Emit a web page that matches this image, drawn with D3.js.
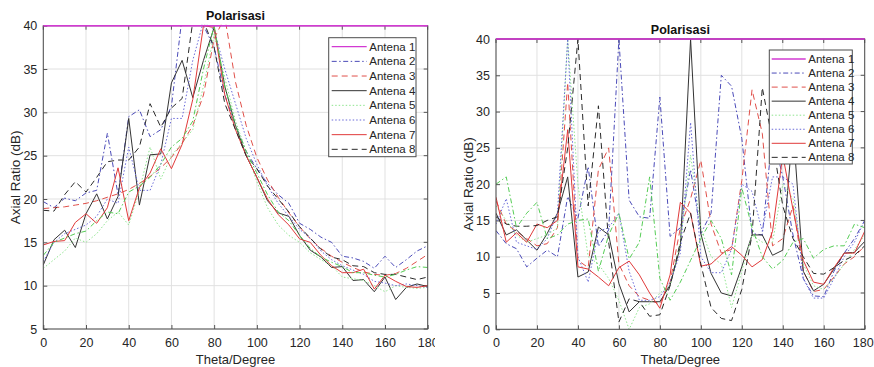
<!DOCTYPE html>
<html><head><meta charset="utf-8">
<script src="https://cdn.jsdelivr.net/npm/d3@7/dist/d3.min.js"></script>
<style>body{margin:0;background:#fff}svg{display:block;font-family:"Liberation Sans",Arial,Helvetica,sans-serif}</style>
</head><body><svg id="chart" width="874" height="367"></svg>
<script>
// ---------- data ----------
const theta = [0,5,10,15,20,25,30,35,40,45,50,55,60,65,70,75,80,85,90,95,100,105,110,115,120,125,130,135,140,145,150,155,160,165,170,175,180];
const seriesNames = ["Antena 1","Antena 2","Antena 3","Antena 4","Antena 5","Antena 6","Antena 7","Antena 8"];
const xTicks = [0,20,40,60,80,100,120,140,160,180];
const yTicksLeft = [5,10,15,20,25,30,35,40];
const yTicksRight = [0,5,10,15,20,25,30,35,40];
const titleText = "Polarisasi";
const xLabel = "Theta/Degree";
const yLabel = "Axial Ratio (dB)";

// left panel
const leftAntena1 = [40,40,40,40,40,40,40,40,40,40,40,40,40,40,40,40,40,40,40,40,40,40,40,40,40,40,40,40,40,40,40,40,40,40,40,40,40];
const leftAntena2 = [19.7,19.0,20.1,19.8,20.7,21.0,27.6,20.5,29.5,30.3,27.2,28.0,30.7,41,41,40,37.5,32,28.5,25.5,23.5,21.8,20.5,19.5,17.2,16.5,15.6,15.0,13.4,13.2,12.8,12.0,13.4,12.1,13.0,14.0,14.6];
const leftAntena3 = [18.9,19.0,19.1,19.3,19.5,19.8,20.2,20.6,21.1,21.8,22.6,23.6,24.8,26.4,28.5,32,38.5,41,33.5,28.5,24.8,22.2,20.2,18.4,16.8,15.4,14.3,13.4,12.7,12.1,11.6,11.3,11.2,11.4,12.0,12.8,13.6];
const leftAntena4 = [12.4,15.3,16.4,14.4,18.3,20.6,17.7,20.3,29.3,19.3,25.1,25.2,33.4,36.0,31.7,36.0,39.8,33.0,28.5,25.0,22.5,19.8,18.4,18.0,15.8,14.1,13.3,12.1,12.2,10.6,10.7,9.3,11.0,8.4,9.8,10.2,9.9];
const leftAntena5 = [12.0,13.0,14.0,15.5,15.0,16.0,17.5,18.5,17.0,21.0,26.0,22.3,25.0,26.5,28.0,33.0,39.0,34.0,29.0,25.5,22.0,19.0,17.0,15.8,15.0,13.8,13.0,12.3,11.0,10.8,10.6,10.0,9.3,10.0,9.8,9.7,9.8];
const leftAntena6 = [12.8,15.0,16.0,16.5,17.0,18.0,20.0,19.5,26.0,21.0,21.0,24.0,29.3,29.3,36.0,40.5,39.5,35.0,31.0,27.0,24.0,21.5,19.5,18.0,16.5,15.5,14.0,13.0,12.3,11.8,11.3,10.5,10.3,10.0,10.2,10.0,9.8];
const leftAntena7 = [14.7,15.1,15.2,17.3,18.3,17.2,19.0,23.6,17.5,21.3,23.0,25.8,23.5,26.3,31.5,40.0,39.8,32.0,28.0,25.0,22.5,20.0,18.2,17.0,15.4,15.0,13.5,12.3,11.5,11.5,11.9,9.6,11.2,10.5,9.9,9.8,10.0];
const leftAntena8 = [18.7,18.6,20.5,22.0,20.8,22.5,24.3,24.5,24.5,26.0,31.0,28.3,30.5,31.6,40.5,40.5,37.5,31.0,28.0,25.0,23.5,21.5,20.0,18.5,16.8,15.5,14.2,13.3,13.0,12.3,12.2,11.5,11.3,11.3,11.0,10.7,11.0];
const leftExtra = [13.5,15.0,15.5,16.0,16.3,17.5,18.5,18.3,20.8,21.5,22.5,24.0,26.0,27.0,29.0,35.0,40.0,33.0,28.5,25.5,23.0,20.5,18.5,17.5,15.8,14.3,13.3,12.7,12.2,11.5,11.5,11.2,11.0,11.3,11.8,12.2,12.1];

// right panel
const rightAntena1 = [40,40,40,40,40,40,40,40,40,40,40,40,40,40,40,40,40,40,40,40,40,40,40,40,40,40,40,40,40,40,40,40,40,40,40,40,40];
const rightAntena2 = [13.6,11.8,11.1,8.6,9.8,10.9,10.0,18.3,15.3,22.4,11.4,13.7,40,17.8,15.5,15.3,32,12.8,14,22,13.2,16,35,33.5,26.3,13.2,13,27,21,13,7,4.6,4.5,8,10.5,12.5,15];
const rightAntena3 = [17.7,14.5,13.5,12.5,11.5,11.8,14,34,9.5,8.5,22,25,9,6,4.5,4,3.5,6.5,14,18,23.3,14.5,10.5,11,20.5,33,27,11.5,12.5,17,8,5.2,5.5,7.2,9,10,11.5];
const rightAntena4 = [16,13,13.7,12.3,10.9,13.2,16,21,7.2,7.9,14.1,13,6.3,2.4,3.8,3.8,3.8,6.1,11.4,40,13.2,7.7,5,4.6,8.6,13,13,10.2,10.9,28,8,5.3,6.2,8.3,10.5,10.6,12.1];
const rightAntena5 = [17,15,13,12,12.5,13,14,40,20,10,9,7,4,0,3,3.5,5,6,12,24,14,10,9,3,8,13,12,12,20,18,9,6,5.5,7,9,11,13];
const rightAntena6 = [14.5,18,12,11.5,11,12.5,16,40,10,6.5,13.5,14,16,8,4,4,4.5,6.5,10.5,28.5,10,7.8,7.8,11,20,19,13.5,21,21,20,7,4.3,4.3,7,10,12,15];
const rightAntena7 = [18.2,12,13.3,12,14.5,14,15,27.5,8.6,8.3,7.2,6,8.5,9.4,7.5,5,2.9,7.5,17.5,16,8.7,9,10.3,11.4,10.2,8.6,9.6,13.5,24,16.5,9.5,6.5,6.2,8.5,10.5,10.5,13.5];
const rightAntena8 = [15.5,14.5,14.2,14.2,14.3,15,15.5,25,40,17,30.8,12,1,4.2,3.8,1.8,2,6,12,16,9,3,1.5,1.2,5.5,13,33.3,26,17,12.5,10,7.7,7.6,8.5,9.5,10.2,11.5];
const rightExtra = [20,21,14,16,17.5,12.5,13,14.5,15,15.2,8,13,16,9.7,12,21,7,4,6.5,9.5,12.5,15,12.5,7.5,19.5,14,10,8.3,9.5,12,12.5,9.8,11,11.5,11.5,14.5,14];

// ---------- styles ----------
const lineStyles = [
  {color:"#d23ad2", dash:null,            width:1.3},
  {color:"#4b4bb8", dash:"5,2.5,1.5,2.5", width:1},
  {color:"#e0504a", dash:"6,4",           width:1},
  {color:"#333333", dash:null,            width:1},
  {color:"#8ee48e", dash:"1.5,2",         width:1},
  {color:"#6a6ad8", dash:"1.5,2",         width:1},
  {color:"#e03a3a", dash:null,            width:1},
  {color:"#2a2a2a", dash:"6,4",           width:1},
  {color:"#55cc55", dash:"5,2.5,1.5,2.5", width:1}
];

const panels = [
  {x0:43.3, x1:427.7, yTop:25.7, yBot:329.0, yDomain:[5,40], yTicks:yTicksLeft,
   series:[leftAntena1,leftAntena2,leftAntena3,leftAntena4,leftAntena5,leftAntena6,leftAntena7,leftAntena8,leftExtra],
   legend:{x:328.7,y:37.7,w:87.3,h:119,first:46.7,step:14.66,l0:331.7,l1:366.7,tx:369.3},
   titleY:20, ylabX:16, clipRight:435, lastDx:0},
  {x0:496, x1:864.7, yTop:39, yBot:329.3, yDomain:[0,40], yTicks:yTicksRight,
   series:[rightAntena1,rightAntena2,rightAntena3,rightAntena4,rightAntena5,rightAntena6,rightAntena7,rightAntena8,rightExtra],
   legend:{x:769.3,y:50,w:83,h:114,first:59,step:14.05,l0:771.7,l1:805.7,tx:808.3},
   titleY:34, ylabX:469, clipRight:874, lastDx:-2}
];

const svg = d3.select("#chart");
const defs = svg.append("defs");

panels.forEach((p, pi) => {
  const x = d3.scaleLinear().domain([0,180]).range([p.x0, p.x1]);
  const y = d3.scaleLinear().domain(p.yDomain).range([p.yBot, p.yTop]);
  const outer = svg.append("g");
  defs.append("clipPath").attr("id","pc"+pi).append("rect")
    .attr("x",0).attr("y",0).attr("width",p.clipRight).attr("height",367);
  outer.attr("clip-path","url(#pc"+pi+")");
  defs.append("clipPath").attr("id","plot"+pi).append("rect")
    .attr("x",p.x0).attr("y",p.yTop-1).attr("width",p.x1-p.x0).attr("height",p.yBot-p.yTop+1);

  // grid
  outer.append("g").selectAll("line").data(xTicks).join("line")
    .attr("x1",d=>x(d)).attr("x2",d=>x(d)).attr("y1",p.yTop).attr("y2",p.yBot)
    .attr("stroke","#e1e1e1").attr("stroke-width",1);
  outer.append("g").selectAll("line").data(p.yTicks).join("line")
    .attr("x1",p.x0).attr("x2",p.x1).attr("y1",d=>y(d)).attr("y2",d=>y(d))
    .attr("stroke","#e1e1e1").attr("stroke-width",1);

  // axes
  const ax = outer.append("g").attr("transform",`translate(0,${p.yBot})`)
    .call(d3.axisBottom(x).tickValues(xTicks).tickSize(-4).tickPadding(9).tickSizeOuter(0));
  const ay = outer.append("g").attr("transform",`translate(${p.x0},0)`)
    .call(d3.axisLeft(y).tickValues(p.yTicks).tickSize(-4).tickPadding(6).tickSizeOuter(0));
  [ax, ay].forEach(a => {
    a.select(".domain").remove();
    a.selectAll(".tick line").attr("stroke","#555");
    a.selectAll(".tick text").attr("fill","#262626").style("font-size","12.5px")
      .style("font-family",'"Liberation Sans",Arial,sans-serif');
  });
  ax.selectAll(".tick text").filter(d => d === 180).attr("dx", p.lastDx);
  // top/right ticks
  outer.append("g").selectAll("line").data(xTicks).join("line")
    .attr("x1",d=>x(d)).attr("x2",d=>x(d)).attr("y1",p.yTop).attr("y2",p.yTop+4).attr("stroke","#555");
  outer.append("g").selectAll("line").data(p.yTicks).join("line")
    .attr("x1",p.x1).attr("x2",p.x1-4).attr("y1",d=>y(d)).attr("y2",d=>y(d)).attr("stroke","#555");

  // lines
  const gl = outer.append("g").attr("clip-path","url(#plot"+pi+")");
  const line = d3.line().x((d,i)=>x(theta[i])).y(d=>y(d));
  p.series.forEach((s, si) => {
    const st = lineStyles[si];
    gl.append("path").datum(s).attr("d", line)
      .attr("fill","none").attr("stroke",st.color).attr("stroke-width",st.width)
      .attr("stroke-dasharray",st.dash).attr("stroke-linejoin","round");
  });
  outer.append("rect").attr("x",p.x0).attr("y",p.yTop).attr("width",p.x1-p.x0).attr("height",p.yBot-p.yTop)
    .attr("fill","none").attr("stroke","#4d4d4d").attr("stroke-width",1);
  outer.append("path").datum(p.series[0]).attr("d", line)
    .attr("fill","none").attr("stroke",lineStyles[0].color).attr("stroke-width",1.4);

  // title + labels
  outer.append("text").attr("x",(p.x0+p.x1)/2).attr("y",p.titleY).attr("text-anchor","middle")
    .style("font-size","12.5px").style("font-weight","bold").attr("fill","#111").text(titleText);
  outer.append("text").attr("x",(p.x0+p.x1)/2).attr("y",364).attr("text-anchor","middle")
    .style("font-size","13px").attr("fill","#262626").text(xLabel);
  outer.append("text").attr("transform",`translate(${p.ylabX+4},${(p.yTop+p.yBot)/2}) rotate(-90)`)
    .attr("text-anchor","middle").style("font-size","13.5px").attr("fill","#262626").text(yLabel);

  // legend
  const L = p.legend;
  const lg = outer.append("g");
  lg.append("rect").attr("x",L.x).attr("y",L.y).attr("width",L.w).attr("height",L.h)
    .attr("fill","#fff").attr("stroke","#4d4d4d").attr("stroke-width",1);
  seriesNames.forEach((n, i) => {
    const st = lineStyles[i];
    const cy = L.first + i*L.step;
    lg.append("line").attr("x1",L.l0).attr("x2",L.l1).attr("y1",cy).attr("y2",cy)
      .attr("stroke",st.color).attr("stroke-width",st.width).attr("stroke-dasharray",st.dash);
    lg.append("text").attr("x",L.tx).attr("y",cy+4).style("font-size","11.5px").attr("fill","#262626").text(n);
  });
});
</script></body></html>
